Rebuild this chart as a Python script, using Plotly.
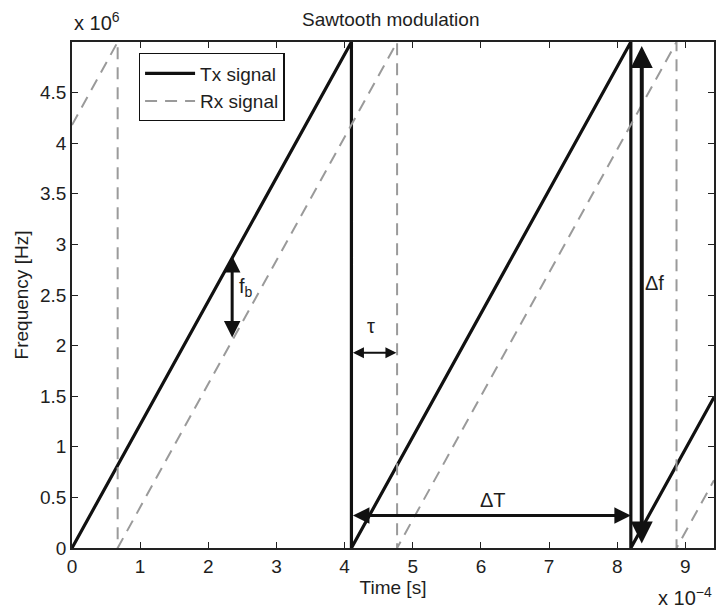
import plotly.graph_objects as go

# Transmitted chirp: ramp vertices (time in s, frequency in Hz)
tx_time = [0.0, 4.1e-4, 4.1e-4, 8.2e-4, 8.2e-4, 9.42e-4]
tx_freq = [0.0, 5.0e6, 0.0, 5.0e6, 0.0, 1.49e6]

# Received echo, delayed copy of the transmitted ramp
rx_time = [0.0, 0.67e-4, 0.67e-4, 4.77e-4, 4.77e-4, 8.87e-4, 8.87e-4, 9.42e-4]
rx_freq = [4.18e6, 5.0e6, 0.0, 5.0e6, 0.0, 5.0e6, 0.0, 0.67e6]

x_ticks = [i * 1e-4 for i in range(10)]
x_tick_text = ["0", "1", "2", "3", "4", "5", "6", "7", "8", "9"]
y_ticks = [i * 0.5e6 for i in range(10)]
y_tick_text = ["0", "0.5", "1", "1.5", "2", "2.5", "3", "3.5", "4", "4.5"]

# Dimension arrows: (x_start, y_start, x_end, y_end, width)
fb_arrow = (2.35e-4, 2.9e6, 2.35e-4, 2.08e6, 3)
tau_arrow = (4.1e-4, 1.93e6, 4.76e-4, 1.93e6, 2)
dT_arrow = (4.1e-4, 0.32e6, 8.2e-4, 0.32e6, 3)
df_arrow = (8.36e-4, 0.03e6, 8.36e-4, 4.96e6, 4)

FONT = "Liberation Sans, Arial, sans-serif"
INK = "#1e1e1e"

fig = go.Figure()
fig.add_trace(go.Scatter(
    x=tx_time, y=tx_freq, mode="lines", name="Tx signal",
    line=dict(color="#111111", width=3.2),
))
fig.add_trace(go.Scatter(
    x=rx_time, y=rx_freq, mode="lines", name="Rx signal",
    line=dict(color="#9a9a9a", width=2, dash="12px,8px"),
))

annotations = []
for (x0, y0, x1, y1, w) in (fb_arrow, tau_arrow, dT_arrow, df_arrow):
    annotations.append(dict(
        x=x1, y=y1, ax=x0, ay=y0, xref="x", yref="y", axref="x", ayref="y",
        text="", showarrow=True, arrowhead=2, startarrowhead=2,
        arrowside="end+start", arrowsize=1.1, startarrowsize=1.1,
        arrowwidth=w, arrowcolor="#111111", standoff=0, startstandoff=0,
    ))

label_font = dict(family=FONT, size=20, color=INK)
annotations += [
    dict(x=2.42e-4, y=2.57e6, xref="x", yref="y", text="f<sub>b</sub>",
         showarrow=False, xanchor="left", font=label_font),
    dict(x=4.38e-4, y=2.19e6, xref="x", yref="y", text="τ",
         showarrow=False, font=label_font),
    dict(x=6.18e-4, y=0.47e6, xref="x", yref="y", text="ΔT",
         showarrow=False, font=label_font),
    dict(x=8.55e-4, y=2.62e6, xref="x", yref="y", text="Δf",
         showarrow=False, font=label_font),
    dict(x=0.0, y=1.0, xref="paper", yref="paper", yshift=6,
         text="x 10<sup>6</sup>", showarrow=False,
         xanchor="left", yanchor="bottom", font=label_font),
    dict(x=1.0, y=0.0, xref="paper", yref="paper", yshift=-48,
         text="x 10<sup>\u22124</sup>", showarrow=False,
         xanchor="right", yanchor="middle", font=label_font),
]

axis_common = dict(
    showgrid=False, zeroline=False, showline=True, linecolor="#222222",
    linewidth=1.5, mirror="ticks", ticks="inside", ticklen=6,
    tickcolor="#222222", tickwidth=1.3,
    tickfont=dict(family=FONT, size=19, color=INK),
)

fig.update_layout(
    width=717, height=609,
    margin=dict(l=72, r=1, t=42, b=61),
    paper_bgcolor="white", plot_bgcolor="white",
    title=dict(text="Sawtooth modulation", x=0.545, xanchor="center",
               y=0.969, yanchor="middle",
               font=dict(family=FONT, size=19, color=INK)),
    xaxis=dict(range=[0, 9.42e-4], tickvals=x_ticks, ticktext=x_tick_text,
               title=dict(text="Time [s]", standoff=4,
                          font=dict(family=FONT, size=19, color=INK)),
               **axis_common),
    yaxis=dict(range=[0, 5.0e6], tickvals=y_ticks, ticktext=y_tick_text,
               title=dict(text="Frequency [Hz]", standoff=6,
                          font=dict(family=FONT, size=19, color=INK)),
               **axis_common),
    legend=dict(x=0.104, y=0.978, xanchor="left", yanchor="top",
                bgcolor="white", bordercolor="#111111", borderwidth=1.3,
                font=dict(family=FONT, size=19, color=INK),
                itemwidth=50, tracegroupgap=2),
    annotations=annotations,
    showlegend=True,
)

fig.write_html("out.html")
